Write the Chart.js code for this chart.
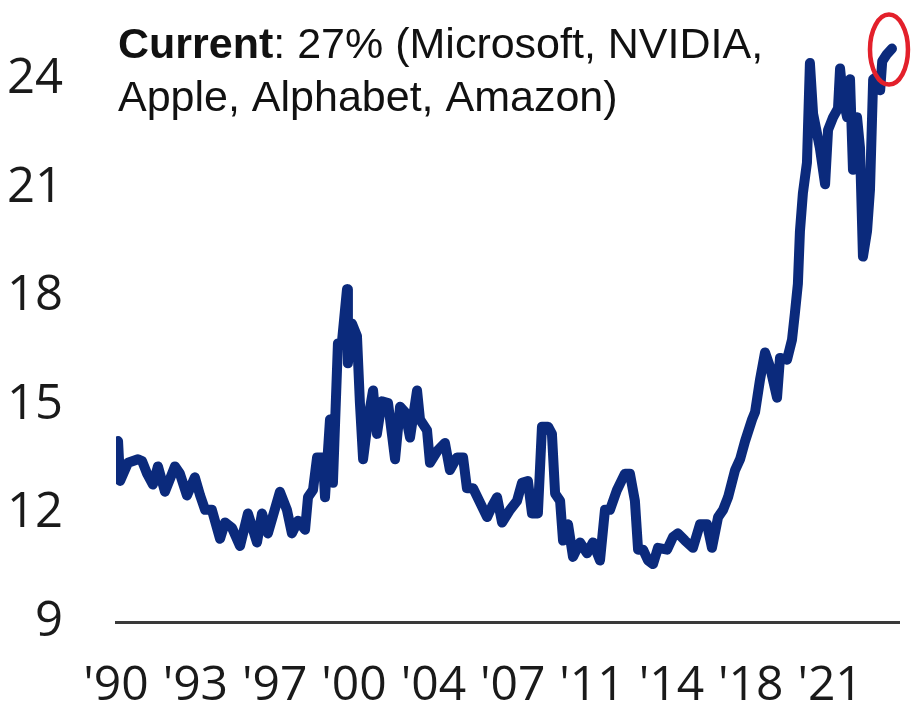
<!DOCTYPE html>
<html>
<head>
<meta charset="utf-8">
<script src="https://cdn.jsdelivr.net/npm/chart.js@4"></script>
<style>
    html, body { margin: 0; padding: 0; background: #ffffff; }
    #wrap { position: relative; width: 912px; height: 709px; }
</style>
</head>
<body>
<div id="wrap"><canvas id="shareChart"></canvas></div>
<script>
// Share of the top 5 names (year, level)
const years = [
    1990.09, 1990.18, 1990.53, 1990.97, 1991.15, 1991.37, 1991.63, 1991.85, 1992.16, 1992.60,
    1992.82, 1993.13, 1993.48, 1993.71, 1993.93, 1994.23, 1994.59, 1994.81, 1995.12, 1995.47,
    1995.82, 1996.22, 1996.44, 1996.70, 1997.23, 1997.54, 1997.76, 1998.03, 1998.34, 1998.47,
    1998.69, 1998.87, 1999.13, 1999.22, 1999.44, 1999.57, 1999.79, 1999.96, 2000.19, 2000.23,
    2000.41, 2000.63, 2000.76, 2000.90, 2001.12, 2001.34, 2001.51, 2001.73, 2002.00, 2002.31,
    2002.53, 2002.75, 2002.97, 2003.28, 2003.41, 2003.72, 2003.85, 2004.20, 2004.51, 2004.73,
    2005.04, 2005.31, 2005.48, 2005.75, 2006.06, 2006.37, 2006.59, 2006.81, 2007.03, 2007.38,
    2007.69, 2007.91, 2008.17, 2008.35, 2008.61, 2008.79, 2009.06, 2009.23, 2009.37, 2009.59,
    2009.72, 2009.94, 2010.16, 2010.47, 2010.78, 2011.04, 2011.35, 2011.57, 2011.79, 2012.10,
    2012.45, 2012.67, 2012.89, 2013.03, 2013.25, 2013.47, 2013.69, 2013.91, 2014.31, 2014.57,
    2014.79, 2015.10, 2015.45, 2015.76, 2016.07, 2016.29, 2016.56, 2016.78, 2017.00, 2017.31,
    2017.53, 2017.75, 2018.06, 2018.19, 2018.41, 2018.63, 2018.85, 2019.16, 2019.29, 2019.60,
    2019.82, 2019.95, 2020.08, 2020.17, 2020.30, 2020.48, 2020.61, 2020.75, 2021.05, 2021.28,
    2021.41, 2021.63, 2021.85, 2021.94, 2022.07, 2022.25, 2022.38, 2022.51, 2022.69, 2022.82,
    2022.95, 2023.13, 2023.26, 2023.40, 2023.62, 2023.71, 2023.80, 2024.01, 2024.23
];
const shares = [
    14.0, 12.9, 13.4, 13.5, 13.45, 13.1, 12.8, 13.3, 12.6, 13.3,
    13.1, 12.5, 13.0, 12.5, 12.1, 12.1, 11.3, 11.75, 11.6, 11.1,
    12.0, 11.2, 12.0, 11.45, 12.6, 12.1, 11.45, 11.8, 11.55, 12.45,
    12.65, 13.55, 13.55, 12.45, 14.6, 12.85, 16.7, 16.7, 18.2, 16.15,
    17.25, 16.9, 15.05, 13.5, 14.6, 15.4, 14.2, 15.1, 15.05, 13.5,
    14.95, 14.8, 14.1, 15.4, 14.6, 14.3, 13.4, 13.75, 13.95, 13.2,
    13.55, 13.55, 12.7, 12.7, 12.3, 11.9, 12.2, 12.45, 11.75, 12.1,
    12.35, 12.85, 12.9, 12.0, 12.0, 14.4, 14.4, 14.2, 12.55, 12.35,
    11.25, 11.7, 10.8, 11.2, 10.9, 11.2, 10.7, 12.1, 12.1, 12.65,
    13.1, 13.1, 12.35, 11.0, 11.0, 10.7, 10.6, 11.05, 11.0, 11.35,
    11.45, 11.25, 11.05, 11.7, 11.7, 11.05, 11.9, 12.1, 12.45, 13.2,
    13.5, 14.0, 14.6, 14.8, 15.7, 16.45, 16.05, 15.2, 16.3, 16.25,
    16.8, 17.55, 18.35, 19.8, 20.85, 21.7, 24.45, 23.05, 22.1, 21.1,
    22.6, 22.95, 23.2, 24.3, 23.5, 22.95, 24.0, 21.5, 22.95, 22.1,
    19.1, 19.8, 20.95, 24.0, 24.1, 23.7, 24.5, 24.7, 24.85
];

// x ticks sit every 3.5 years, labelled with the truncated year
const xTickYears = [1990, 1993.5, 1997, 2000.5, 2004, 2007.5, 2011, 2014.5, 2018, 2021.5];
const xTickLabels = ["'90", "'93", "'97", "'00", "'04", "'07", "'11", "'14", "'18", "'21"];
const yTickValues = [9, 12, 15, 18, 21, 24];

const noteBold = 'Current';
const noteRest = ': 27% (Microsoft, NVIDIA,';
const noteLine2 = 'Apple, Alphabet, Amazon)';

const NAVY = '#0b2a7c';
const TICK_FONT = '"Open Sans", sans-serif';
const NOTE_FONT = '"Liberation Sans", Arial, sans-serif';

// Top-left annotation, bold lead word then regular text
const notePlugin = {
    id: 'note',
    afterDraw(chart) {
        const ctx = chart.ctx;
        ctx.save();
        ctx.fillStyle = '#111111';
        ctx.textBaseline = 'alphabetic';
        ctx.textAlign = 'left';
        ctx.font = `bold 43px ${NOTE_FONT}`;
        ctx.fillText(noteBold, 118, 58);
        const w = ctx.measureText(noteBold).width;
        ctx.font = `43px ${NOTE_FONT}`;
        ctx.fillText(noteRest, 118 + w, 58);
        ctx.fillText(noteLine2, 118, 111);
        ctx.restore();
    }
};

// Red ring round the latest reading
const ringPlugin = {
    id: 'ring',
    afterDatasetsDraw(chart) {
        const meta = chart.getDatasetMeta(0);
        const last = meta.data[meta.data.length - 1];
        if (!last) return;
        const ctx = chart.ctx;
        ctx.save();
        ctx.strokeStyle = '#e3202b';
        ctx.lineWidth = 4.5;
        ctx.beginPath();
        ctx.ellipse(last.x - 3, last.y + 1, 19, 35, 0, 0, Math.PI * 2);
        ctx.stroke();
        ctx.restore();
    }
};

const ctx = document.getElementById('shareChart').getContext('2d');
new Chart(ctx, {
    type: 'line',
    data: {
        datasets: [{
            data: years.map((y, i) => ({ x: y, y: shares[i] })),
            borderColor: NAVY,
            borderWidth: 10,
            borderJoinStyle: 'round',
            borderCapStyle: 'round',
            pointRadius: 0,
            tension: 0,
            fill: false
        }]
    },
    options: {
        responsive: true,
        maintainAspectRatio: false,
        animation: false,
        devicePixelRatio: 1,
        layout: { padding: { left: 0, right: 13, top: 7, bottom: 0 } },
        plugins: {
            legend: { display: false },
            tooltip: { enabled: false }
        },
        scales: {
            x: {
                type: 'linear',
                min: 1990,
                max: 2024.54,
                grid: { display: false, drawTicks: false },
                border: { display: true, color: '#3a3a3a', width: 3 },
                afterBuildTicks: (scale) => { scale.ticks = xTickYears.map(v => ({ value: v })); },
                afterFit: (scale) => {
                    scale.height = 87;
                    scale.paddingLeft = 0;
                    scale.paddingRight = 0;
                },
                ticks: {
                    autoSkip: false,
                    maxRotation: 0,
                    padding: 36,
                    color: '#1a1a1a',
                    font: { family: TICK_FONT, size: 48 },
                    callback: (v, i) => xTickLabels[i]
                }
            },
            y: {
                min: 9,
                max: 26,
                grid: { display: false, drawTicks: false },
                border: { display: false },
                afterBuildTicks: (scale) => { scale.ticks = yTickValues.map(v => ({ value: v })); },
                afterFit: (scale) => {
                    scale.width = 116;
                    scale.paddingTop = 0;
                    scale.paddingBottom = 0;
                },
                ticks: {
                    padding: 53,
                    color: '#1a1a1a',
                    font: { family: TICK_FONT, size: 49 },
                    callback: (v) => String(v)
                }
            }
        }
    },
    plugins: [notePlugin, ringPlugin]
});
</script>
</body>
</html>
